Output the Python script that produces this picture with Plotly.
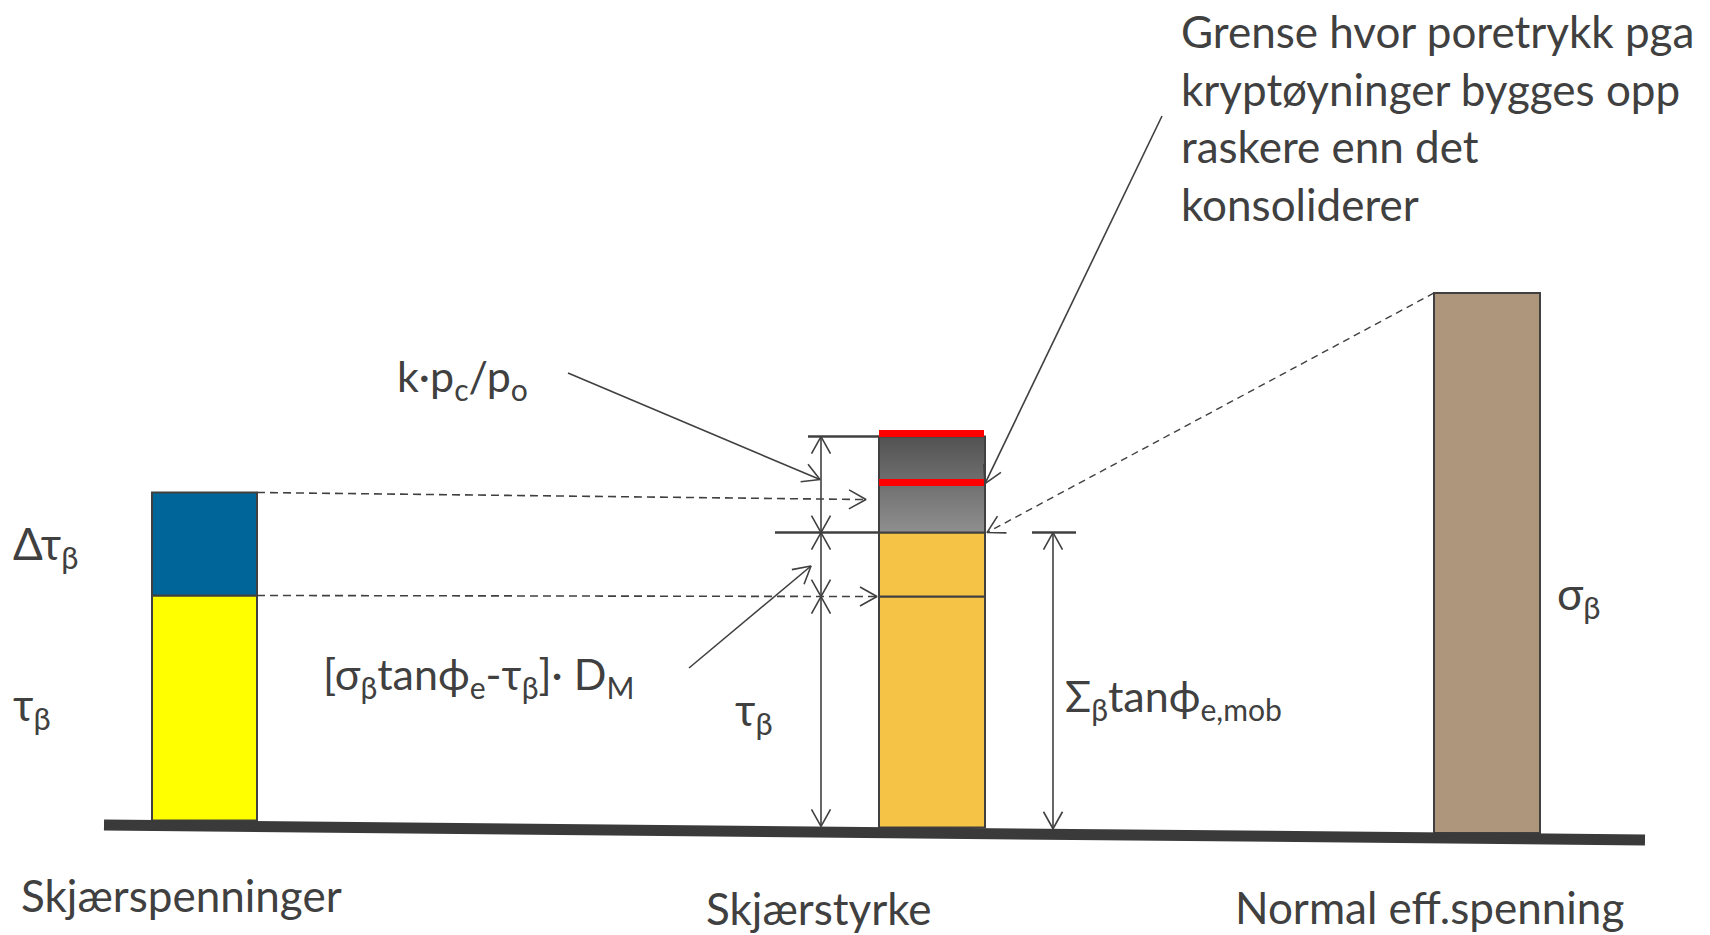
import math
import plotly.graph_objects as go

W, H = 1710, 935

# ---------------- data (heights in drawing units) ----------------
categories = ["Skjærspenninger", "Skjærstyrke", "Normal eff.spenning"]
stress_labels = ["τβ", "Δτβ"]
stress_values = [225, 103]                     # left column: τβ, Δτβ
strength_labels = ["τβ", "[σβtanϕe-τβ]·DM", "k·pc/po"]
strength_values = [231, 64, 96]                # middle column segments
red_levels = [345, 394]                        # red limit lines (height above base)
normal_values = [540]                          # right column: σβ

# ---------------- style / layout constants ----------------
LC = "#404040"
TXT = "#404040"
FONT = "Lato, 'DejaVu Sans', sans-serif"
GREEK = "'Liberation Serif', 'DejaVu Serif', serif"
col_x = [204.5, 932, 1487]
col_w = [105, 106, 106]
stress_colors = ["#FFFF00", "#006699"]
strength_colors = ["#F5C446", "#F5C446"]
normal_color = "#AE967D"

g_x0, g_y0, g_x1, g_y1, g_w = 104, 825, 1645, 840, 11


def Y(py):
    return H - py


def ground_top(x):
    return g_y0 + (x - g_x0) * (g_y1 - g_y0) / (g_x1 - g_x0) - g_w / 2


fig = go.Figure()


def seg(x0, p0, x1, p1, width=2, color=LC, dash=None):
    fig.add_trace(go.Scatter(x=[x0, x1], y=[Y(p0), Y(p1)], mode="lines",
                             line=dict(color=color, width=width, dash=dash),
                             hoverinfo="skip"))


def head(xt, pt, xf, pf, L=17, hw=9.5, width=1.6):
    dx, dy = xt - xf, pt - pf
    n = math.hypot(dx, dy)
    ux, uy = dx / n, dy / n
    nx, ny = -uy, ux
    bx, by = xt - L * ux, pt - L * uy
    fig.add_trace(go.Scatter(
        x=[bx + hw * nx, xt, bx - hw * nx],
        y=[Y(by + hw * ny), Y(pt), Y(by - hw * ny)],
        mode="lines", line=dict(color=LC, width=width), hoverinfo="skip"))


def arrow(x0, p0, x1, p1, width=1.6, dash=None, both=False):
    seg(x0, p0, x1, p1, width=width, dash=dash)
    head(x1, p1, x0, p0)
    if both:
        head(x0, p0, x1, p1)


# ---------------- ground ----------------
seg(g_x0, g_y0, g_x1, g_y1, width=g_w, color="#3a3a3a")

# ---------------- left column ----------------
b0 = ground_top(col_x[0])
acc = 0
for v, c in zip(stress_values, stress_colors):
    fig.add_trace(go.Bar(x=[col_x[0]], y=[v], base=[Y(b0) + acc], width=[col_w[0]],
                         marker=dict(color=c, line=dict(color=LC, width=2)),
                         hoverinfo="skip"))
    acc += v
left_top = b0 - sum(stress_values)
left_mid = b0 - stress_values[0]

# ---------------- middle column ----------------
b1 = ground_top(col_x[1])
acc = 0
for v, c in zip(strength_values[:2], strength_colors):
    fig.add_trace(go.Bar(x=[col_x[1]], y=[v], base=[Y(b1) + acc], width=[col_w[1]],
                         marker=dict(color=c, line=dict(color=LC, width=2)),
                         hoverinfo="skip"))
    acc += v
gy0 = Y(b1) + acc
gy1 = gy0 + strength_values[2]
xl, xr = col_x[1] - col_w[1] / 2, col_x[1] + col_w[1] / 2
fig.add_trace(go.Scatter(x=[xl, xr, xr, xl, xl], y=[gy0, gy0, gy1, gy1, gy0],
                         mode="lines", fill="toself",
                         fillgradient=dict(type="vertical",
                                           colorscale=[[0, "#8f8f8f"], [1, "#525252"]],
                                           start=gy0, stop=gy1),
                         line=dict(color=LC, width=2), hoverinfo="skip"))
for lv in red_levels:
    fig.add_trace(go.Scatter(x=[xl, xr - 1], y=[Y(b1) + lv, Y(b1) + lv], mode="lines",
                             line=dict(color="#FF0000", width=7), hoverinfo="skip"))

mid_tau = b1 - strength_values[0]
mid_orange = b1 - strength_values[0] - strength_values[1]
mid_top = b1 - sum(strength_values)

# ---------------- right column ----------------
b2 = ground_top(col_x[2])
fig.add_trace(go.Bar(x=[col_x[2]], y=[normal_values[0]], base=[Y(b2)], width=[col_w[2]],
                     marker=dict(color=normal_color, line=dict(color=LC, width=2)),
                     hoverinfo="skip"))
right_top = b2 - normal_values[0]

# ---------------- dimension lines ----------------
dx1 = 821
seg(808, mid_top, xl, mid_top, width=2.5)
seg(775, mid_orange, xl, mid_orange, width=2.5)
arrow(dx1, mid_top, dx1, mid_orange, both=True)
arrow(dx1, mid_orange, dx1, mid_tau, both=True)
arrow(dx1, mid_tau, dx1, ground_top(dx1), both=True)

dx2 = 1053
seg(1032, mid_orange, 1076, mid_orange, width=2.5)
arrow(dx2, mid_orange, dx2, ground_top(dx2), both=True)

# ---------------- dashed connectors ----------------
lx = col_x[0] + col_w[0] / 2
arrow(lx, left_top, 866, b1 - sum(stress_values), dash="8px,5px", width=1.6)
arrow(lx, left_mid, xl - 2, mid_tau, dash="8px,5px", width=1.6)
arrow(col_x[2] - col_w[2] / 2, right_top, xr + 2, mid_orange, dash="7px,5px", width=1.4)

# ---------------- callout arrows ----------------
arrow(568, 373, dx1 - 1, b1 - red_levels[0] - 3)
arrow(689, 668, 811, 566)
arrow(1162, 116, xr, b1 - red_levels[0] + 1)

# ---------------- text ----------------
ann = []


def text(x, py, s, size=44, fam=FONT):
    ann.append(dict(x=x, y=Y(py), text=s, showarrow=False, xanchor="left",
                    yanchor="middle", borderpad=0,
                    font=dict(family=fam, size=size, color=TXT)))


def g(s):
    return f"<span style='font-family:{GREEK}'>{s}</span>"


text(12, 546, g("Δτ") + "<sub>" + g("β") + "</sub>", size=44)
text(12, 707, g("τ") + "<sub>" + g("β") + "</sub>", size=44)
text(734, 712, g("τ") + "<sub>" + g("β") + "</sub>", size=44)
text(1556, 596, g("σ") + "<sub>" + g("β") + "</sub>", size=44)
text(396, 378, "k·p<sub>c</sub>/p<sub>o</sub>", size=43)
text(322, 676, "[" + g("σ") + "<sub>" + g("β") + "</sub>tanϕ<sub>e</sub>-" + g("τ")
     + "<sub>" + g("β") + "</sub>]· D<sub>M</sub>", size=43)
text(1064, 698, "Σ<sub>" + g("β") + "</sub>tanϕ<sub>e,mob</sub>", size=43)

for i, ln in enumerate(["Grense hvor poretrykk pga", "kryptøyninger bygges opp",
                        "raskere enn det", "konsoliderer"]):
    text(1180, 31 + i * 57.5, ln)

text(20, 895, categories[0])
text(705, 908, categories[1])
text(1234, 907, categories[2])

fig.update_layout(
    width=W, height=H, margin=dict(l=0, r=0, t=0, b=0),
    paper_bgcolor="white", plot_bgcolor="white", showlegend=False,
    barmode="overlay", annotations=ann,
    xaxis=dict(range=[0, W], visible=False, fixedrange=True),
    yaxis=dict(range=[0, H], visible=False, fixedrange=True),
)
fig.write_html("out.html", config={"displayModeBar": False},
               post_script="document.body.style.margin='0';document.body.style.overflow='hidden';")
